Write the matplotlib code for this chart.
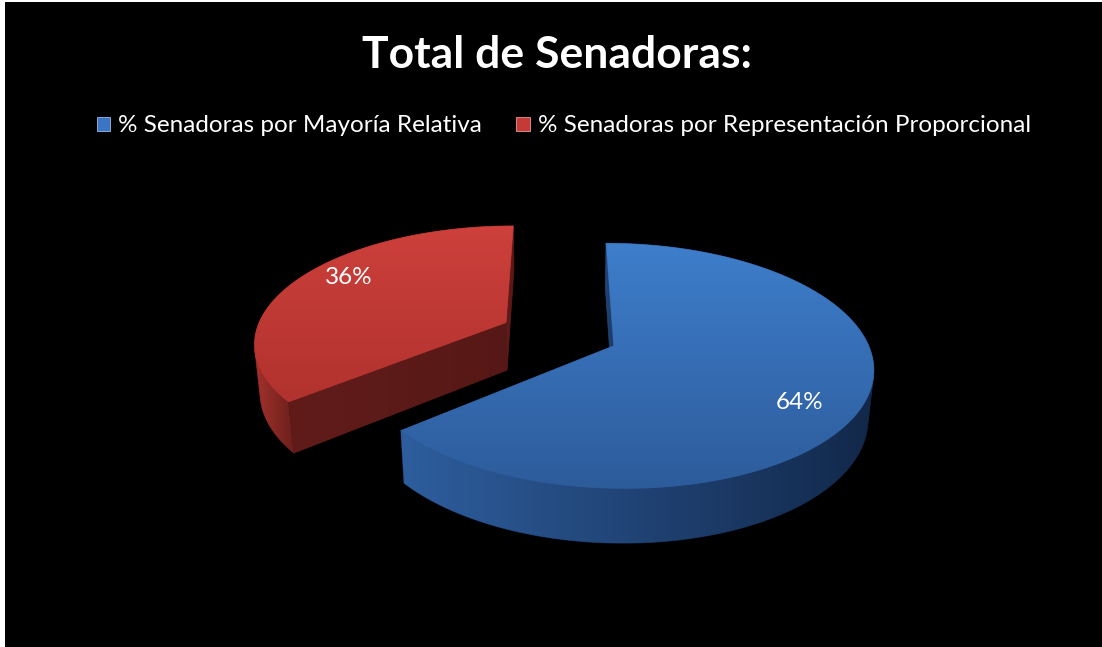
import numpy as np
import matplotlib
matplotlib.use("Agg")
import matplotlib.pyplot as plt
from matplotlib.patches import Polygon, Patch
from matplotlib.colors import to_rgb

TITLE = "Total de Senadoras:"
CATEGORIES = ["% Senadoras por Mayoría Relativa",
              "% Senadoras por Representación Proporcional"]
VALUES = [64, 36]
LABELS = ["64%", "36%"]

# (light, dark) pairs per slice
TOP_COLORS = [("#3e7ecc", "#2d5c9b"), ("#cd403b", "#b1322e")]
SIDE_COLORS = [("#2e5e9e", "#12284a"), ("#a3312c", "#6a1f1c")]
CUT_COLORS = [("#224677", "#1a3862"), ("#611c1a", "#561816")]
LEGEND_COLORS = ["#3a74c4", "#c63a36"]
LABEL_NUDGE = [16, -11]  # px, vertical shift of data labels

# camera / pie geometry (pixels of the output)
W, H = 1102, 647
PHI = np.radians(27.4)
DIST = 5.54
FOC = 1390
THICK = 0.22
EXPLODE = 0.237
CX, CY = 559, 334
CAM = np.array([0.0, -DIST * np.cos(PHI), DIST * np.sin(PHI)])


def proj(x, y, z):
    yc = y * np.sin(PHI) + z * np.cos(PHI)
    d = DIST + y * np.cos(PHI) - z * np.sin(PHI)
    return CX + FOC * x / d, CY - FOC * yc / d


def grad_fill(ax, xs, ys, c1, c2, z, horizontal=False):
    xs, ys = np.asarray(xs), np.asarray(ys)
    base = Polygon(np.column_stack([xs, ys]), closed=True,
                   facecolor=c2, edgecolor=c2, lw=0.6, zorder=z)
    ax.add_patch(base)
    a, b = np.array(to_rgb(c1)), np.array(to_rgb(c2))
    t = np.linspace(0, 1, 256)[:, None]
    g = a * (1 - t) + b * t
    img = g[None, :, :] if horizontal else g[:, None, :]
    im = ax.imshow(img, extent=(xs.min(), xs.max(), ys.max(), ys.min()),
                   origin="upper", aspect="auto", interpolation="bilinear",
                   zorder=z + 0.1)
    im.set_clip_path(base)


fig = plt.figure(figsize=(W / 100, H / 100), dpi=100, facecolor="white")
bg = fig.add_axes([5 / W, 0, 1 - 5 / W, 1 - 2 / H])
bg.set_facecolor("black")
bg.set_xticks([]); bg.set_yticks([])
for s in bg.spines.values():
    s.set_visible(False)

ax = fig.add_axes([0, 0, 1, 1])
ax.set_facecolor("none")
ax.axis("off")

# slice angles: start at 12 o'clock, clockwise
fracs = np.array(VALUES) / np.sum(VALUES)
ends = 90 - 360 * np.concatenate([[0], np.cumsum(fracs)])
slices = []
for i in range(len(VALUES)):
    t1, t0 = ends[i], ends[i + 1]
    mid = np.radians((t0 + t1) / 2)
    ox, oy = EXPLODE * np.cos(mid), EXPLODE * np.sin(mid)
    slices.append((i, t0, t1, mid, ox, oy))

# paint back to front
slices.sort(key=lambda s: -s[5])
zc = 1
for i, t0, t1, mid, ox, oy in slices:
    th = np.radians(np.linspace(t0, t1, 300))
    rx, ry = ox + np.cos(th), oy + np.sin(th)
    ztop, zbot = 0.0, -THICK

    # outer curved side
    vis = (np.cos(th) * (CAM[0] - rx) + np.sin(th) * (CAM[1] - ry)) > 0
    if vis.any():
        idx = np.where(vis)[0]
        sx_t, sy_t = proj(rx[idx], ry[idx], ztop)
        sx_b, sy_b = proj(rx[idx], ry[idx], zbot)
        grad_fill(ax, np.concatenate([sx_t, sx_b[::-1]]),
                  np.concatenate([sy_t, sy_b[::-1]]),
                  SIDE_COLORS[i][0], SIDE_COLORS[i][1], zc, horizontal=True)
        zc += 1

    # flat cut faces
    for ang, sgn in ((t0, -1), (t1, 1)):
        a = np.radians(ang + sgn * 90)
        n = np.array([np.cos(a), np.sin(a)])
        if n @ (CAM[:2] - np.array([ox, oy])) > 0:
            px = np.array([ox, ox + np.cos(np.radians(ang))])
            py = np.array([oy, oy + np.sin(np.radians(ang))])
            x1, y1 = proj(px, py, ztop)
            x2, y2 = proj(px, py, zbot)
            grad_fill(ax, np.concatenate([x1, x2[::-1]]),
                      np.concatenate([y1, y2[::-1]]),
                      CUT_COLORS[i][0], CUT_COLORS[i][1], zc, horizontal=True)
            zc += 1

    # top surface
    tx, ty = proj(np.concatenate([[ox], rx]), np.concatenate([[oy], ry]), ztop)
    grad_fill(ax, tx, ty, TOP_COLORS[i][0], TOP_COLORS[i][1], zc)
    zc += 1

    # data label
    lx, ly = proj(ox + 0.75 * np.cos(mid), oy + 0.75 * np.sin(mid), ztop)
    ax.text(lx, ly + LABEL_NUDGE[i], LABELS[i], color="white", fontsize=17.5,
            family="Lato", ha="center", va="center", zorder=100)

ax.set_xlim(0, W)
ax.set_ylim(H, 0)

fig.text(557 / W, 1 - 55 / H, TITLE, ha="center", va="center", color="white",
         fontsize=32, fontweight="bold", family="Lato")

handles = [Patch(facecolor=c, edgecolor="#9ab8e0" if k == 0 else "#e09a9a", lw=0.6)
           for k, c in enumerate(LEGEND_COLORS)]
fig.legend(handles, CATEGORIES, loc="center", bbox_to_anchor=(564 / W, 1 - 126 / H),
           ncol=2, frameon=False, labelcolor="white",
           prop={"family": "Lato", "size": 17.5}, handlelength=0.55,
           handleheight=0.55, handletextpad=0.35, columnspacing=1.4)

fig.savefig("out.png", dpi=100, facecolor=fig.get_facecolor())
